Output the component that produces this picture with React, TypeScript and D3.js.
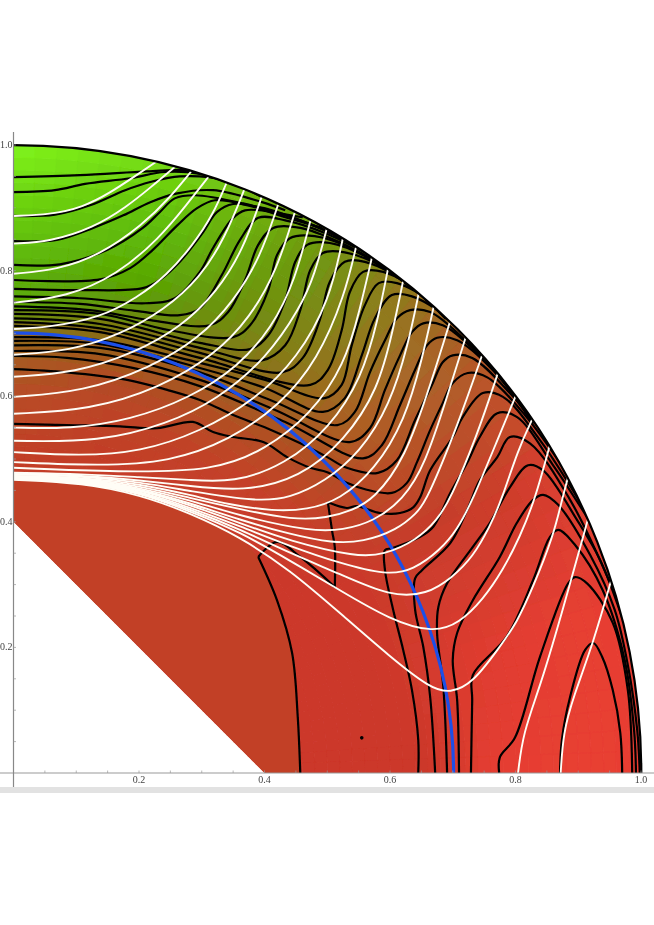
import React from "react";
import * as d3 from "d3";

type P = [number, number];

const whiteA: P[][] = [
  [[0,.887],[.058,.889],[.111,.901],[.154,.924],[.190,.948],[.230,.975]],
  [[0,.843],[.058,.846],[.127,.868],[.181,.902],[.218,.932],[.257,.965]],
  [[0,.795],[.069,.801],[.138,.825],[.206,.873],[.249,.916],[.284,.959]],
  [[0,.749],[.085,.758],[.165,.793],[.233,.852],[.276,.905],[.312,.951]],
  [[0,.707],[.058,.710],[.138,.725],[.197,.757],[.245,.793],[.286,.841],[.318,.889],[.340,.941]],
  [[0,.666],[.090,.672],[.170,.698],[.241,.738],[.297,.788],[.337,.852],[.369,.932]],
  [[0,.631],[.098,.637],[.194,.669],[.269,.712],[.324,.766],[.366,.833],[.396,.919]],
  [[0,.599],[.111,.607],[.218,.645],[.297,.693],[.350,.750],[.393,.820],[.422,.906]],
  [[0,.572],[.122,.578],[.233,.613],[.321,.666],[.377,.725],[.420,.801],[.449,.895]],
  [[0,.550],[.090,.548],[.186,.562],[.281,.597],[.358,.647],[.412,.709],[.449,.785],[.474,.883]],
  [[0,.529],[.138,.527],[.245,.556],[.324,.594],[.404,.661],[.457,.741],[.480,.793],[.500,.870]],
  [[0,.511],[.106,.505],[.202,.511],[.297,.543],[.385,.594],[.453,.661],[.504,.753],[.525,.852]],
  [[0,.495],[.138,.489],[.249,.495],[.345,.530],[.425,.586],[.485,.658],[.528,.761],[.546,.838]],
  [[0,.486],[.170,.479],[.321,.481],[.401,.515],[.473,.570],[.528,.650],[.552,.738],[.571,.820]],
];
const whiteB: P[][] = [
  [[0,.478],[.111,.476],[.202,.471],[.281,.467],[.350,.462],[.433,.491],[.504,.550],[.555,.629],[.581,.722],[.597,.804]],
  [[0,.476],[.111,.474],[.202,.466],[.281,.457],[.366,.448],[.457,.470],[.528,.530],[.581,.610],[.605,.706],[.621,.784]],
  [[0,.475],[.111,.473],[.202,.463],[.281,.449],[.388,.432],[.441,.438],[.496,.464],[.552,.510],[.600,.586],[.629,.682],[.646,.765]],
  [[0,.473],[.111,.471],[.202,.460],[.281,.443],[.345,.427],[.414,.417],[.468,.419],[.520,.435],[.576,.483],[.624,.562],[.651,.658],[.670,.744]],
  [[0,.472],[.111,.470],[.202,.457],[.281,.438],[.361,.420],[.445,.403],[.500,.406],[.541,.419],[.573,.435],[.624,.499],[.667,.626],[.696,.720]],
  [[0,.471],[.111,.469],[.202,.454],[.281,.435],[.361,.409],[.477,.384],[.525,.387],[.573,.400],[.621,.435],[.656,.491],[.692,.602],[.721,.695]],
  [[0,.471],[.111,.468],[.202,.452],[.281,.430],[.361,.403],[.441,.380],[.509,.366],[.557,.368],[.611,.387],[.643,.414],[.659,.435],[.708,.554],[.747,.666]],
  [[0,.470],[.111,.466],[.202,.451],[.281,.427],[.361,.398],[.441,.369],[.547,.344],[.589,.347],[.643,.371],[.675,.403],[.696,.435],[.739,.538],[.772,.637]],
  [[0,.469],[.111,.465],[.202,.449],[.281,.423],[.361,.393],[.441,.361],[.520,.334],[.595,.315],[.637,.323],[.680,.355],[.707,.387],[.732,.435],[.771,.530],[.801,.602]],
  [[0,.468],[.111,.465],[.202,.447],[.281,.420],[.361,.388],[.441,.350],[.520,.317],[.600,.281],[.659,.284],[.700,.312],[.732,.344],[.759,.392],[.778,.435],[.804,.515],[.828,.566]],
  [[0,.468],[.111,.463],[.202,.446],[.281,.417],[.361,.384],[.441,.338],[.520,.291],[.600,.244],[.669,.223],[.711,.239],[.748,.276],[.780,.323],[.807,.376],[.831,.435],[.855,.523]],
  [[0,.467],[.111,.462],[.202,.443],[.281,.414],[.361,.376],[.441,.323],[.520,.255],[.600,.185],[.664,.135],[.696,.127],[.732,.143],[.775,.201],[.802,.239],[.828,.296],[.860,.376],[.874,.435],[.884,.472]],
  [[.804,0],[.812,.064],[.839,.137],[.871,.244],[.916,.406]],
  [[.872,0],[.876,.064],[.892,.121],[.924,.207],[.954,.312]],
];

const blackTop: P[][] = [
  [[0,.949],[.106,.952],[.213,.958],[.276,.960],[.308,.952]],
  [[0,.925],[.066,.928],[.114,.938],[.186,.947],[.241,.957],[.297,.954],[.353,.936]],
  [[0,.887],[.066,.889],[.122,.904],[.178,.928],[.218,.941],[.265,.950],[.337,.944],[.396,.917]],
  [[0,.847],[.069,.849],[.127,.868],[.175,.888],[.218,.909],[.261,.923],[.318,.928],[.396,.909],[.433,.896]],
  [[0,.809],[.074,.810],[.149,.833],[.206,.868],[.233,.893],[.257,.915],[.289,.920],[.366,.907],[.420,.892],[.461,.885]],
  [[0,.785],[.138,.786],[.186,.804],[.222,.833],[.261,.872],[.292,.899],[.321,.912],[.377,.903],[.433,.885],[.492,.868]],
  [[0,.771],[.106,.769],[.206,.772],[.233,.785],[.265,.814],[.302,.861],[.324,.893],[.350,.906],[.401,.899],[.457,.880],[.512,.858]],
  [[0,.759],[.106,.756],[.210,.748],[.257,.756],[.297,.798],[.318,.836],[.350,.884],[.369,.896],[.417,.892],[.473,.874],[.536,.844]],
  [[0,.750],[.106,.747],[.194,.736],[.265,.729],[.297,.740],[.332,.793],[.361,.849],[.390,.884],[.433,.880],[.496,.860],[.560,.829]],
  [[0,.743],[.122,.737],[.218,.721],[.313,.713],[.342,.734],[.369,.785],[.390,.841],[.414,.868],[.457,.868],[.520,.845],[.587,.809]],
  [[0,.737],[.138,.731],[.249,.705],[.350,.694],[.377,.713],[.406,.769],[.420,.825],[.441,.852],[.480,.855],[.544,.833],[.613,.788]],
  [[0,.731],[.138,.723],[.297,.685],[.377,.675],[.406,.697],[.433,.753],[.449,.814],[.468,.841],[.504,.844],[.571,.817],[.638,.769]],
  [[0,.724],[.138,.715],[.297,.677],[.396,.657],[.433,.681],[.457,.737],[.473,.801],[.493,.828],[.528,.829],[.592,.804],[.664,.748]],
  [[0,.718],[.138,.708],[.297,.669],[.428,.638],[.461,.661],[.488,.721],[.504,.782],[.528,.814],[.560,.814],[.624,.782],[.689,.723]],
  [[0,.712],[.138,.702],[.297,.661],[.473,.618],[.501,.642],[.523,.705],[.536,.766],[.557,.798],[.589,.798],[.648,.766],[.713,.702]],
  [[0,.694],[.138,.689],[.297,.653],[.401,.626],[.496,.597],[.523,.618],[.539,.681],[.560,.745],[.582,.780],[.611,.780],[.672,.745],[.739,.673]],
  [[0,.688],[.138,.683],[.297,.645],[.401,.613],[.493,.575],[.528,.597],[.555,.665],[.576,.724],[.603,.761],[.635,.759],[.696,.721],[.759,.650]],
  [[0,.681],[.138,.677],[.297,.638],[.409,.594],[.516,.554],[.544,.575],[.568,.638],[.592,.689],[.611,.724],[.632,.737],[.664,.734],[.720,.689],[.783,.621]],
  [[0,.672],[.138,.667],[.297,.626],[.417,.578],[.536,.527],[.568,.549],[.592,.610],[.616,.665],[.635,.702],[.653,.716],[.684,.713],[.743,.665],[.807,.591]],
  [[0,.664],[.085,.661],[.190,.645],[.297,.616],[.433,.559],[.557,.501],[.587,.522],[.616,.586],[.640,.642],[.659,.681],[.675,.693],[.707,.689],[.767,.638],[.828,.556]],
  [[0,.643],[.085,.638],[.181,.626],[.245,.610],[.297,.594],[.350,.570],[.404,.549],[.457,.525],[.500,.503],[.531,.486],[.581,.478],[.611,.498],[.640,.562],[.667,.618],[.684,.654],[.700,.665],[.731,.661],[.791,.605],[.855,.527]],
  [[0,.556],[.085,.554],[.170,.552],[.229,.549],[.286,.559],[.318,.543],[.350,.535],[.398,.527],[.436,.503],[.473,.486],[.500,.479],[.531,.462],[.563,.451],[.603,.446],[.627,.462],[.643,.495],[.664,.546],[.684,.589],[.700,.621],[.724,.637],[.755,.630],[.815,.570],[.879,.482]],
];
const blackKinked: P[][] = [
  [[.457,0],[.453,.089],[.444,.191],[.420,.275],[.390,.344]],
  [[.390,.344],[.420,.368],[.457,.344],[.512,.296]],
  [[.512,.296],[.512,.360],[.508,.384],[.501,.431]],
  [[.501,.431],[.531,.422],[.547,.425],[.584,.414],[.616,.414],[.637,.423],[.648,.439],[.664,.482],[.700,.535],[.716,.567],[.748,.605],[.780,.599],[.839,.530],[.903,.431]],
];
const blackBottom: P[][] = [
  [[.645,0],[.645,.053],[.635,.132],[.621,.196],[.605,.260],[.592,.323],[.592,.355],[.603,.358],[.648,.376],[.669,.392],[.696,.446],[.723,.494],[.743,.535],[.771,.573],[.802,.567],[.860,.490],[.927,.387]],
  [[.672,0],[.664,.121],[.653,.201],[.640,.260],[.640,.310],[.651,.323],[.696,.366],[.723,.419],[.743,.466],[.771,.503],[.791,.535],[.823,.525],[.887,.435],[.951,.302]],
  [[.691,0],[.685,.137],[.675,.223],[.677,.264],[.691,.302],[.732,.360],[.759,.398],[.791,.455],[.820,.490],[.844,.482],[.898,.403],[.935,.339],[.970,.247]],
  [[.710,0],[.707,.116],[.700,.180],[.707,.223],[.732,.275],[.775,.344],[.802,.398],[.828,.435],[.844,.443],[.868,.427],[.919,.347],[.958,.260],[.979,.172],[.994,.068],[.998,0]],
  [[.729,0],[.731,.116],[.732,.156],[.786,.217],[.828,.307],[.855,.376],[.868,.387],[.895,.363],[.939,.291],[.974,.180],[.989,.068],[.992,0]],
  [[.774,0],[.775,.025],[.799,.056],[.839,.185],[.884,.302],[.895,.312],[.914,.302],[.955,.239],[.979,.132],[.986,0]],
  [[.871,0],[.874,.053],[.887,.121],[.911,.196],[.924,.207],[.938,.185],[.955,.132],[.967,.064],[.970,0]],
];

const innerBand: P[] = [[0,.4],[.4,0],[.457,0],[.453,.089],[.444,.191],[.420,.275],[.390,.344],[.361,.376],[.281,.414],[.202,.443],[.111,.462],[0,.467]];
const innerBandColor = "#c24026";

const dotPoint: P = [.555, .056];
const blueRadius = 0.701;
const outerRadius = 1;
const chordIntercept = 0.4;
const majorTicks = [.2, .4, .6, .8, 1];
const minorTicks = d3.range(1, 21).map((d) => d * 0.05);

const fieldAngles = [0, 15, 30, 45, 60, 75, 90];
const fieldRadii = [.3, .42, .5, .6, .65, .7, .75, .8, .9, 1];
const fieldColors: string[][] = [
  ["#c24026","#c24026","#c23e26","#b84c26","#a85a22","#8c6a18","#5aa806","#5cb208","#6cd010","#80f51c"],
  ["#c24026","#c43e27","#c43c28","#bc4426","#b04c24","#9a6018","#6a8c0c","#58a404","#60bc08","#74d814"],
  ["#c24026","#c63c28","#c83a2a","#c04428","#b24e24","#a05c20","#88741a","#7a8414","#6e9610","#709a10"],
  ["#c83a29","#c83a29","#cc382a","#c6402a","#bc4826","#b05024","#b05a24","#ac6024","#a8682a","#a86024"],
  ["#cc382a","#cc382a","#cc382a","#cc382a","#ca3a2b","#c83c2c","#c83c2c","#c83c2c","#cc3c2c","#d84030"],
  ["#cc382a","#cc382a","#cc382a","#cc382a","#d03a2c","#d63a2e","#dc3b2f","#e03c30","#e63f33","#e83e32"],
  ["#cc382a","#cc382a","#cc382a","#cc382a","#cc382a","#d43a2e","#e23d30","#e63e32","#e83f33","#e83e32"],
];

const x = d3.scaleLinear().domain([0, 1]).range([13.5, 641]);
const y = d3.scaleLinear().domain([0, 1]).range([773, 145]);
const rad = d3.scaleLinear().domain([0, 1]).range([0, 627.8]);

const smooth = d3.line<P>().x((d) => x(d[0])).y((d) => y(d[1])).curve(d3.curveCatmullRom.alpha(0.5));
const flowing = d3.line<P>().x((d) => x(d[0])).y((d) => y(d[1])).curve(d3.curveBasis);
const straight = d3.line<P>().x((d) => x(d[0])).y((d) => y(d[1]));
const arcGen = d3.arc();

function fieldColor(angle: number, r: number): string {
  const i = Math.max(0, Math.min(fieldAngles.length - 2, d3.bisectRight(fieldAngles, angle) - 1));
  const t = (angle - fieldAngles[i]) / (fieldAngles[i + 1] - fieldAngles[i]);
  const a = d3.scaleLinear<string>().domain(fieldRadii).range(fieldColors[i]).clamp(true)(r);
  const b = d3.scaleLinear<string>().domain(fieldRadii).range(fieldColors[i + 1]).clamp(true)(r);
  return d3.interpolateRgb(a, b)(t);
}

const cellAngles = d3.range(0, 90, 2);
const cellRadii = d3.range(0.28, 1.0, 0.02);

const regionPath = (() => {
  const p = d3.path();
  const r = rad(outerRadius);
  p.moveTo(x(0), y(outerRadius));
  p.arc(x(0), y(0), r, -Math.PI / 2, 0);
  p.lineTo(x(chordIntercept), y(0));
  p.lineTo(x(0), y(chordIntercept));
  p.closePath();
  return p.toString();
})();

export default function App() {
  const cx = x(0);
  const cy = y(0);
  const toR = (d: number) => (d * Math.PI) / 180;
  return (
    <svg width={654} height={925} style={{ position: "absolute", left: 0, top: 0, background: "#fff" }}>
      <defs>
        <clipPath id="region"><path d={regionPath} /></clipPath>
        <filter id="soft" x="-5%" y="-5%" width="110%" height="110%">
          <feGaussianBlur stdDeviation="0.55" />
        </filter>
      </defs>
      <rect x={0} y={787} width={654} height={6} fill="#e2e2e2" />
      <g filter="url(#soft)">
        <g clipPath="url(#region)">
          {cellAngles.map((a) =>
            cellRadii.map((r) => {
              const col = fieldColor(a + 1, r + 0.01);
              return (
                <path
                  key={a + "-" + r}
                  transform={`translate(${cx},${cy})`}
                  d={arcGen({ innerRadius: rad(r), outerRadius: rad(r + 0.02) + 0.5, startAngle: toR(a), endAngle: toR(a + 2) + 0.002 }) as string}
                  fill={col}
                  stroke={col}
                  strokeWidth={0.4}
                />
              );
            })
          )}
          <path d={straight(innerBand) + "Z"} fill={innerBandColor} />
          <g fill="none" stroke="#000" strokeWidth={2.2} strokeLinejoin="round">
            {[...blackTop, ...blackKinked, ...blackBottom].map((c, i) => (
              <path key={i} d={smooth(c) as string} />
            ))}
          </g>
          <path
            transform={`translate(${cx},${cy})`}
            d={arcGen({ innerRadius: rad(blueRadius), outerRadius: rad(blueRadius), startAngle: 0, endAngle: Math.PI / 2 }) as string}
            fill="none"
            stroke="#1f4fe8"
            strokeWidth={3.2}
          />
          <g fill="none" stroke="#fffdf6" strokeWidth={1.9}>
            {[...whiteA, ...whiteB].map((c, i) => (
              <path key={i} d={flowing(c) as string} />
            ))}
          </g>
        </g>
        <path
          transform={`translate(${cx},${cy})`}
          d={arcGen({ innerRadius: rad(outerRadius), outerRadius: rad(outerRadius), startAngle: 0, endAngle: Math.PI / 2 }) as string}
          fill="none"
          stroke="#000"
          strokeWidth={2.2}
        />
        <circle cx={x(dotPoint[0])} cy={y(dotPoint[1])} r={1.8} fill="#000" />
        <line x1={0} x2={654} y1={y(0)} y2={y(0)} stroke="#999" strokeWidth={1} />
        <line x1={x(0)} x2={x(0)} y1={132} y2={787} stroke="#888" strokeWidth={1.2} />
        {minorTicks.map((t) => (
          <g key={t} stroke="#999" strokeWidth={0.7}>
            <line x1={x(t)} x2={x(t)} y1={y(0)} y2={y(0) - 2.5} />
            <line x1={x(0)} x2={x(0) + 2.5} y1={y(t)} y2={y(t)} />
          </g>
        ))}
        {majorTicks.map((t) => (
          <g key={t} fill="#444" fontFamily="'Liberation Serif', serif" fontSize={10}>
            <text x={x(t)} y={783} textAnchor="middle">{t.toFixed(1)}</text>
            <text x={12.5} y={y(t) + 3} textAnchor="end">{t.toFixed(1)}</text>
          </g>
        ))}
      </g>
    </svg>
  );
}
